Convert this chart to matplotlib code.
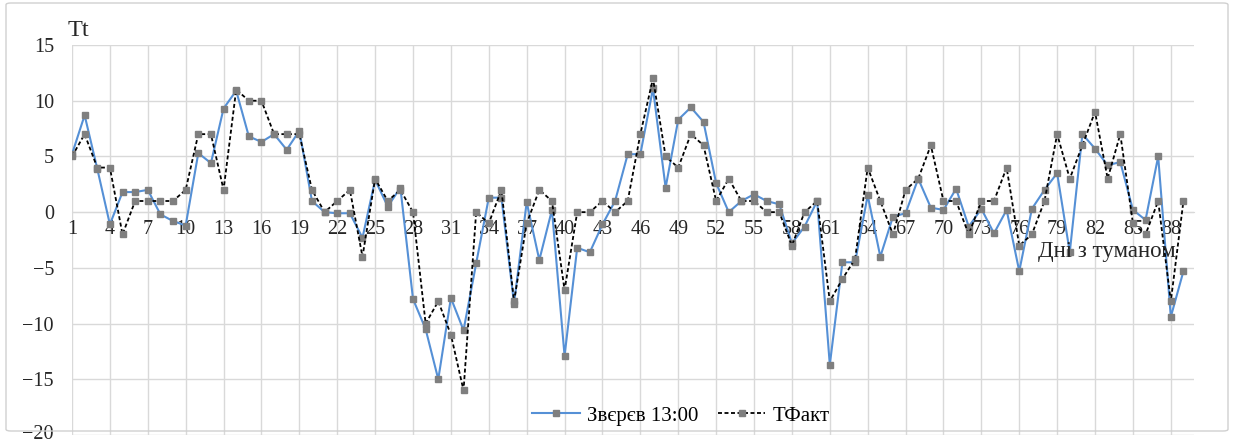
import matplotlib
matplotlib.use("Agg")
import matplotlib.pyplot as plt
import matplotlib.transforms as mtransforms
from matplotlib.lines import Line2D
from matplotlib.patches import FancyBboxPatch

plt.rcParams['font.family'] = ['Liberation Serif', 'DejaVu Serif']

# Days with fog (1..89) and the two temperature series
days = list(range(1, 90))

zverev_1300 = [5.2, 8.7, 3.9, -1.1, 1.8, 1.8, 2.0, -0.2, -0.8, -1.2,
               5.3, 4.4, 9.3, 10.9, 6.8, 6.3, 7.0, 5.6, 7.3, 1.0,
               0.0, -0.1, -0.1, -2.3, 2.9, 0.5, 2.2, -7.8, -10.5, -15.0,
               -7.7, -10.6, -4.6, 1.3, 1.3, -8.2, 0.9, -4.3, 0.2, -12.9,
               -3.2, -3.6, -1.1, 1.0, 5.2, 5.2, 11.1, 2.2, 8.3, 9.4,
               8.1, 2.6, 0.0, 1.0, 1.6, 1.0, 0.7, -2.8, -1.3, 1.0,
               -13.7, -4.5, -4.5, 1.5, -4.0, -0.4, -0.1, 3.0, 0.4, 0.2,
               2.1, -1.3, 0.3, -1.9, 0.2, -5.3, 0.3, 2.0, 3.5, -3.6,
               7.0, 5.7, 4.2, 4.5, 0.2, -0.7, 5.0, -9.4, -5.3]

t_fact = [5, 7, 4, 4, -2, 1, 1, 1, 1, 2,
          7, 7, 2, 11, 10, 10, 7, 7, 7, 2,
          0, 1, 2, -4, 3, 1, 2, 0, -10, -8,
          -11, -16, 0, -1, 2, -8, -1, 2, 1, -7,
          0, 0, 1, 0, 1, 7, 12, 5, 4, 7,
          6, 1, 3, 1, 1, 0, 0, -3, 0, 1,
          -8, -6, -4.2, 4, 1, -2, 2, 3, 6, 1,
          1, -2, 1, 1, 4, -3, -2, 1, 7, 3,
          6, 9, 3, 7, -1, -2, 1, -8, 1]

x_ticks = list(range(1, 90, 3))
y_ticks = [-20, -15, -10, -5, 0, 5, 10, 15]

label_zverev = "Звєрєв 13:00"
label_fact = "ТФакт"
y_title = "Tt"
x_title = "Дні з туманом"

W, H = 1237, 442
fig = plt.figure(figsize=(W / 100, H / 100), dpi=100)
fig.patch.set_facecolor("white")

# outer rounded frame
frame = FancyBboxPatch((6 / W, 11 / H), 1222 / W, 428 / H,
                       boxstyle="round,pad=0,rounding_size=0.004",
                       transform=fig.transFigure, fill=False,
                       edgecolor="#d0d0d0", linewidth=1.0)
fig.patches.append(frame)

left = 72 / W
bottom = (H - 435) / H
top = (H - 45) / H
xmax = 89.8
width = (xmax - 1) * 12.63 / W
ax = fig.add_axes([left, bottom, width, top - bottom])

blue = "#5590d6"
marker_col = "#7f7f7f"
dash = (0, (2.2, 1.4))

ax.plot(days, zverev_1300, color=blue, lw=1.5, marker="s", ms=3.8,
        mfc=marker_col, mec=marker_col, zorder=3)
ax.plot(days, t_fact, color="black", lw=1.3, ls=dash, marker="s",
        ms=3.8, mfc=marker_col, mec=marker_col, zorder=4)

ax.set_xlim(1, xmax)
ax.set_ylim(-20, 15)
ax.set_yticks(y_ticks)
ax.set_xticks(x_ticks)
ax.set_xticklabels([str(t) for t in x_ticks])
ax.grid(True, color="#d9d9d9", lw=1.0, zorder=0)
ax.set_axisbelow(True)

for s in ["top", "right", "left"]:
    ax.spines[s].set_visible(False)
ax.spines["bottom"].set_position(("data", 0))
ax.spines["bottom"].set_color("#d9d9d9")
ax.tick_params(axis="both", length=0, labelsize=14.5, colors="#262626")
ax.tick_params(axis="x", pad=6)
ax.tick_params(axis="y", pad=13)
for lab in ax.get_xticklabels():
    lab.set_zorder(2)

# keep the lowest y label inside the frame
fig.canvas.draw()
lowest = ax.get_yticklabels()[0]
lowest.set_transform(lowest.get_transform() +
                     mtransforms.ScaledTranslation(0, 3 / 100, fig.dpi_scale_trans))

fig.text(78 / W, 1 - 30 / H, y_title, fontsize=17.5, ha="center", va="center",
         color="#262626")
fig.text(1107 / W, 1 - 252 / H, x_title, fontsize=16.5, ha="center", va="center",
         color="#262626")

handles = [
    Line2D([], [], color=blue, lw=1.5, marker="s", ms=3.8, mfc=marker_col,
           mec=marker_col),
    Line2D([], [], color="black", lw=1.3, ls=dash, marker="s", ms=3.8,
           mfc=marker_col, mec=marker_col),
]
fig.legend(handles, [label_zverev, label_fact], loc="center",
           bbox_to_anchor=(681 / W, 1 - 416 / H), ncol=2, frameon=False,
           fontsize=15, handlelength=2.3, columnspacing=0.9, handletextpad=0.35)

fig.savefig("out.png", dpi=100)
